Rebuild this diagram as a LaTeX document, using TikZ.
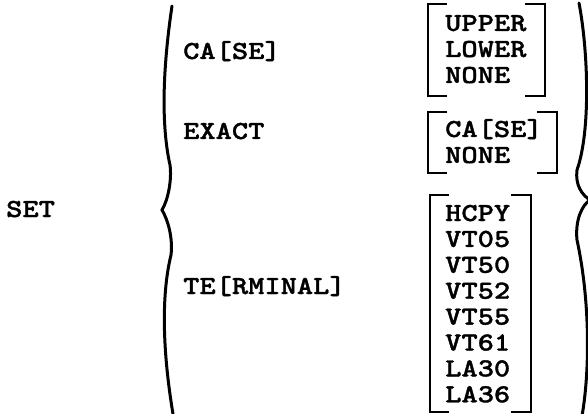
\documentclass[tikz,border=0pt]{standalone}
\usepackage{fontspec}
\newfontfamily\tw[FakeStretch=1.19,FakeBold=1.3]{lmmonolt10-bold.otf}
\begin{document}
\begin{tikzpicture}[x=1pt,y=-1pt,
  lbl/.style={anchor=base west,inner sep=0pt,font=\tw\fontsize{26}{26}\selectfont},
  brk/.style={line width=2.2pt},
  brc/.style={line width=3pt,line cap=round}]
\useasboundingbox (0,0) rectangle (588,414);
% left column
\node[lbl] (set) at (6,217) {SET};
\node[lbl] (case) at (183,59) {CA[SE]};
\node[lbl] (exact) at (183,139) {EXACT};
\node[lbl] (term) at (183,294) {TE[RMINAL]};
% bracket 1
\node[lbl] (upper) at (445,31) {UPPER};
\node[lbl] (lower) at (445,57) {LOWER};
\node[lbl] (none1) at (445,83) {NONE};
\draw[brk] (447,4) -- (428,4) -- (428,96) -- (447,96);
\draw[brk] (525,4) -- (545,4) -- (545,96) -- (525,96);
% bracket 2
\node[lbl] (case2) at (445,137) {CA[SE]};
\node[lbl] (none2) at (445,163) {NONE};
\draw[brk] (447,112) -- (428,112) -- (428,173) -- (447,173);
\draw[brk] (537,112) -- (557,112) -- (557,173) -- (537,173);
% bracket 3
\foreach \t [count=\i from 0] in {HCPY,VT05,VT50,VT52,VT55,VT61,LA30,LA36}
  \node[lbl] (t\i) at (445,221+25.9*\i) {\t};
\draw[brk] (449,195) -- (430,195) -- (430,412) -- (449,412);
\draw[brk] (511,195) -- (531,195) -- (531,412) -- (511,412);
% left brace
\draw[brc] (172,6) .. controls (164,60) and (160,120) .. (170,165)
  .. controls (172,180) and (168,200) .. (162,210)
  .. controls (168,220) and (173,238) .. (171,255)
  .. controls (160,300) and (164,360) .. (173,414);
% right brace
\draw[brc] (579,3) .. controls (588,50) and (591,130) .. (577,170)
  .. controls (575,185) and (582,195) .. (590,200)
  .. controls (582,205) and (575,220) .. (577,240)
  .. controls (590,300) and (590,370) .. (582,416);
\end{tikzpicture}
\end{document}
